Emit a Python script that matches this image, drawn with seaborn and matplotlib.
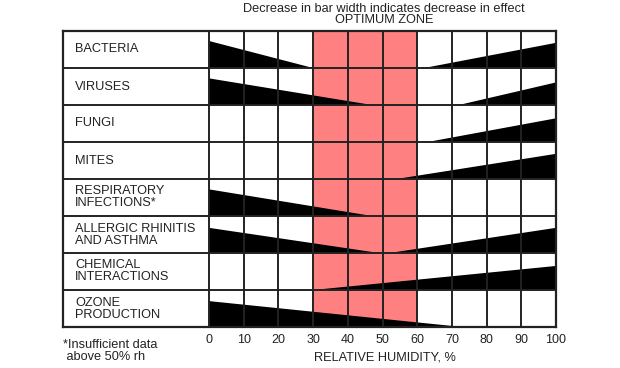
import matplotlib
matplotlib.use("Agg")
import matplotlib.pyplot as plt
import seaborn as sns
import numpy as np

# ---- data ----
categories = ["BACTERIA", "VIRUSES", "FUNGI", "MITES",
              "RESPIRATORY\nINFECTIONS*", "ALLERGIC RHINITIS\nAND ASTHMA",
              "CHEMICAL\nINTERACTIONS", "OZONE\nPRODUCTION"]
# left (dry-side) wedge: height at 0% rh (fraction of row), humidity where it ends
left_height = [0.73, 0.72, 0.0, 0.0, 0.72, 0.68, 0.0, 0.70]
left_end = [30, 47, 0, 0, 47, 49, 0, 73]
# right (humid-side) wedge: humidity where it starts, height at 100% rh
right_start = [62, 72, 63, 54, 100, 52, 30, 100]
right_height = [0.68, 0.61, 0.64, 0.68, 0.0, 0.68, 0.65, 0.0]
humidity_ticks = [0, 10, 20, 30, 40, 50, 60, 70, 80, 90, 100]
optimum_zone = (30, 60)

sns.set_theme(style="white")
plt.rcParams["font.family"] = ["Liberation Sans", "DejaVu Sans"]

fig = plt.figure(figsize=(6.2, 3.68), dpi=100)
W, H = 620, 368
x0_px, x100_px = 209, 556
left_px, top_px, bot_px = 63, 31, 327
ppu = (x100_px - x0_px) / 100.0
xmin = (left_px - x0_px) / ppu
ax = fig.add_axes([left_px / W, 1 - bot_px / H, (x100_px - left_px) / W, (bot_px - top_px) / H])
n = len(categories)
ax.set_xlim(xmin, 100)
ax.set_ylim(n, 0)

txt = "#222222"
FS = 9.2

# optimum zone
ax.axvspan(optimum_zone[0], optimum_zone[1], color="#FF8080", zorder=1, lw=0)

# wedges
for i in range(n):
    base = i + 1
    if left_height[i] > 0:
        ax.fill([0, 0, left_end[i]], [base, base - left_height[i], base],
                color="black", lw=0, zorder=2)
    if right_height[i] > 0:
        ax.fill([right_start[i], 100, 100], [base, base - right_height[i], base],
                color="black", lw=0, zorder=2)
    ax.text(xmin + 3.5, i + 0.5, categories[i], va="center", ha="left",
            fontsize=FS, color=txt, linespacing=1.0, zorder=4)

lc = "#222222"
for x in humidity_ticks:
    ax.axvline(x, color=lc, lw=1.4, zorder=3)
for y in range(1, n):
    ax.axhline(y, color=lc, lw=1.4, zorder=3)

for s in ax.spines.values():
    s.set_visible(True)
    s.set_color(lc)
    s.set_linewidth(1.6)
    s.set_zorder(3)

ax.set_yticks([])
ax.set_xticks(humidity_ticks)
ax.set_xticklabels([str(t) for t in humidity_ticks], fontsize=9, color=txt)
ax.tick_params(axis="x", length=0, pad=5)
ax.set_xlabel("RELATIVE HUMIDITY, %", fontsize=FS, color=txt)
ax.xaxis.set_label_coords((385 - left_px) / (x100_px - left_px), -(358 - bot_px) / (bot_px - top_px))
ax.xaxis.label.set_ha("center")
ax.xaxis.label.set_va("center")

fig.text(384 / W, 1 - 9 / H, "Decrease in bar width indicates decrease in effect",
         ha="center", va="center", fontsize=FS, color=txt)
fig.text(384 / W, 1 - 20 / H, "OPTIMUM ZONE",
         ha="center", va="center", fontsize=FS, color=txt)
fig.text(63 / W, 1 - 351 / H, "*Insufficient data\n above 50% rh",
         ha="left", va="center", fontsize=FS, color=txt, linespacing=1.0)

fig.savefig("out.png", dpi=100, facecolor="white")
